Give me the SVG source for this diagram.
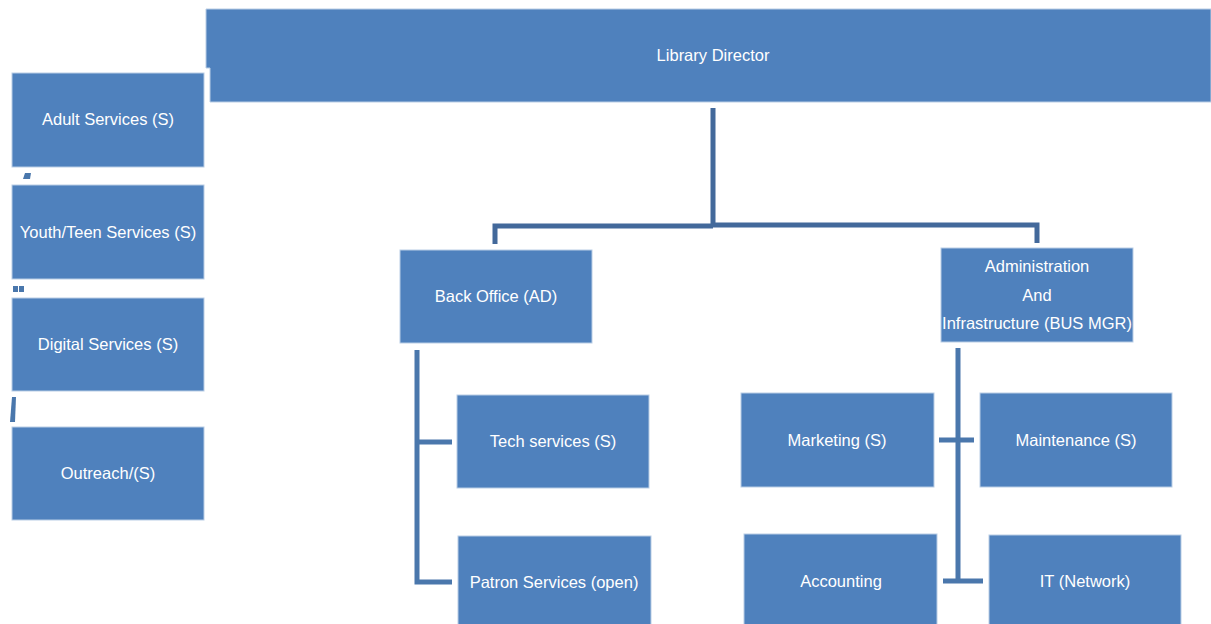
<svg xmlns="http://www.w3.org/2000/svg" width="1211" height="624" viewBox="0 0 1211 624">
<style>
.box{fill:#4F81BD;stroke:#B9CDE5;stroke-width:1}
.t{font-family:"Liberation Sans",Arial,sans-serif;font-size:16.5px;fill:#FFFFFF;text-anchor:middle}
.c{fill:none;stroke:#43699B;stroke-width:5;stroke-linejoin:miter}
.c2{fill:none;stroke:#4A77AC;stroke-width:5}
.mk{fill:#4A77AC}
</style>
<rect width="1211" height="624" fill="#FFFFFF"/>
<g id="connectors">
<path class="c" d="M713,108 V226 M495,244 V226 H713 M713,225 H1037 V243"/>
<path class="c2" d="M417,350 V582 H452 M417,442 H452"/>
<path class="c2" d="M958,348 V581 M939,440 H974 M943,581 H983"/>
</g>
<g id="marks">
<polygon class="mk" points="25,173 31,173 30,179 23,179"/>
<rect class="mk" x="13" y="286" width="5" height="6"/>
<rect class="mk" x="19" y="286" width="5" height="6"/>
<polygon class="mk" points="12,397 16,397 15,422 10,422"/>
</g>
<g id="director">
<path class="box" d="M206,9 H1211 V102 H210 V68 H206 Z"/>
<text class="t" x="713" y="61">Library Director</text>
</g>
<g id="adult">
<rect class="box" x="12" y="73" width="192" height="94"/>
<text class="t" x="108" y="125">Adult Services (S)</text>
</g>
<g id="youth">
<rect class="box" x="12" y="185" width="192" height="94"/>
<text class="t" x="108" y="238">Youth/Teen Services (S)</text>
</g>
<g id="digital">
<rect class="box" x="12" y="298" width="192" height="93"/>
<text class="t" x="108" y="350">Digital Services (S)</text>
</g>
<g id="outreach">
<rect class="box" x="12" y="427" width="192" height="93"/>
<text class="t" x="108" y="479">Outreach/(S)</text>
</g>
<g id="backoffice">
<rect class="box" x="400" y="250" width="192" height="93"/>
<text class="t" x="496" y="302">Back Office (AD)</text>
</g>
<g id="admin">
<rect class="box" x="941" y="248" width="192" height="94"/>
<text class="t" x="1037" y="272">Administration</text>
<text class="t" x="1037" y="301">And</text>
<text class="t" x="1037" y="329">Infrastructure (BUS MGR)</text>
</g>
<g id="tech">
<rect class="box" x="457" y="395" width="192" height="93"/>
<text class="t" x="553" y="447">Tech services (S)</text>
</g>
<g id="patron">
<rect class="box" x="458" y="536" width="193" height="92"/>
<text class="t" x="554" y="588">Patron Services (open)</text>
</g>
<g id="marketing">
<rect class="box" x="741" y="393" width="193" height="94"/>
<text class="t" x="837" y="446">Marketing (S)</text>
</g>
<g id="maintenance">
<rect class="box" x="980" y="393" width="192" height="94"/>
<text class="t" x="1076" y="446">Maintenance (S)</text>
</g>
<g id="accounting">
<rect class="box" x="744" y="534" width="193" height="94"/>
<text class="t" x="841" y="587">Accounting</text>
</g>
<g id="it">
<rect class="box" x="989" y="535" width="192" height="93"/>
<text class="t" x="1085" y="587">IT (Network)</text>
</g>
</svg>
